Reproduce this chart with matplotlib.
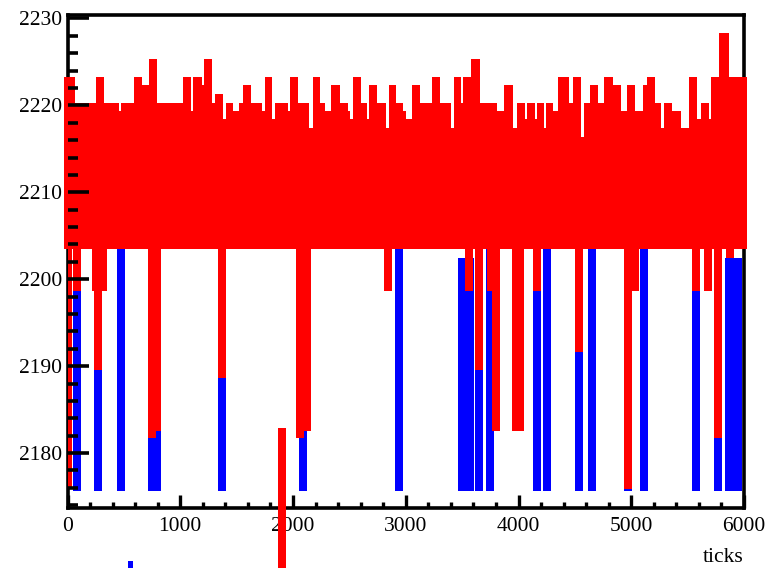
import matplotlib.pyplot as plt
import numpy as np
from matplotlib.ticker import MultipleLocator

plt.rcParams['font.family'] = ['Liberation Serif', 'DejaVu Serif']

# red trace: upper envelope of the fast oscillation (step edges in ticks, top values)
band_edges = [-35, 67, 253, 327, 460, 472, 590, 658, 726, 794, 1028, 1093, 1111, 1191, 1211,
              1279, 1309, 1377, 1404, 1472, 1525, 1560, 1626, 1723, 1753, 1818, 1842, 1954, 1975,
              2040, 2143, 2173, 2241, 2285, 2336, 2418, 2486, 2507, 2531, 2602, 2655, 2673, 2744,
              2821, 2847, 2915, 2972, 3001, 3057, 3122, 3232, 3300, 3401, 3424, 3489, 3507, 3581,
              3655, 3809, 3874, 3951, 3986, 4060, 4075, 4149, 4164, 4229, 4244, 4306, 4347, 4445,
              4483, 4554, 4578, 4631, 4702, 4762, 4838, 4909, 4963, 5031, 5105, 5140, 5208, 5267,
              5288, 5362, 5445, 5510, 5584, 5622, 5687, 5711, 5782, 5865, 6030]
band_top = [2223.3, 2220.3, 2223.3, 2220.3, 2219.4, 2220.3, 2223.3, 2222.3, 2225.3, 2220.3,
            2223.3, 2219.4, 2223.3, 2222.3, 2225.3, 2220.3, 2221.3, 2218.4, 2220.3, 2219.4,
            2220.3, 2222.3, 2220.3, 2219.4, 2223.3, 2218.4, 2220.3, 2219.4,
            2223.3, 2220.3, 2217.4, 2223.3, 2220.3, 2219.4, 2222.3, 2220.3, 2219.4, 2218.4,
            2223.3, 2220.3, 2218.4, 2222.3, 2220.3, 2217.4, 2222.3, 2220.3, 2219.4, 2218.4,
            2222.3, 2220.3, 2223.3, 2220.3, 2217.4, 2223.3, 2220.3, 2223.3, 2225.3, 2220.3,
            2219.4, 2222.3, 2217.4, 2220.3, 2218.4, 2220.3, 2218.4, 2220.3, 2217.4, 2220.3,
            2219.4, 2223.3, 2220.3, 2223.3, 2216.4, 2220.3, 2222.3, 2220.3, 2223.3, 2222.3,
            2219.4, 2222.3, 2219.4, 2222.3, 2223.3, 2220.3, 2217.4, 2220.3, 2219.4, 2217.4,
            2223.3, 2218.4, 2220.3, 2218.4, 2223.3, 2228.3, 2223.3]
band_low = 2203.5

# red excursions below the band
red_x = [0, 81, 255, 315, 266, 746, 792, 1373, 2063, 2123, 2846, 3565, 3651, 3755, 3799,
         3982, 4016, 4164, 4538, 4967, 5037, 5574, 5680, 5772, 5873]
red_low = [2175.9, 2198.6, 2198.6, 2198.6, 2189.6, 2181.7, 2182.6, 2188.6, 2181.7, 2182.6,
           2198.6, 2198.6, 2189.6, 2198.6, 2182.6, 2182.6, 2182.6, 2198.6, 2191.6, 2175.9,
           2198.6, 2198.6, 2198.6, 2181.7, 2202.5]

# blue trace excursions (mostly hidden behind red)
blue_x = [81, 266, 473, 746, 790, 1373, 2086, 2936, 3498, 3572, 3646, 3750, 4164, 4257,
          4538, 4652, 4967, 5112, 5574, 5772, 5864, 5906, 5948]
blue_top = [2204, 2204, 2204, 2204, 2204, 2204, 2204, 2204, 2202.5, 2202.5, 2202.5, 2204,
            2204, 2204, 2204, 2204, 2204, 2204, 2204, 2204, 2202.4, 2202.4, 2202.4]
blue_low = [2175.6] * len(blue_x)

# points that fall outside the frame
stray_red = (1905, 2182.9)
stray_blue = (559, 2167.6)

fig = plt.figure(figsize=(7.69, 5.68), dpi=100)
ax = fig.add_axes([0.0878, 0.1051, 0.8797, 0.8685])

w = 71
ax.bar(blue_x, np.subtract(blue_top, blue_low), bottom=blue_low, width=w,
       color='blue', linewidth=0, zorder=1)
ax.stairs(band_top, band_edges, baseline=band_low, fill=True, color='red',
          linewidth=0, zorder=1.2, clip_on=False)
ax.bar(red_x, np.subtract(band_low + 0.5, red_low), bottom=red_low, width=w,
       color='red', linewidth=0, zorder=1.2)
ax.bar([stray_red[0]], [stray_red[1] - 2150], bottom=2150, width=w, color='red',
       linewidth=0, zorder=3, clip_on=False)
ax.bar([stray_blue[0]], [stray_blue[1] - 2150], bottom=2150, width=50, color='blue',
       linewidth=0, zorder=3, clip_on=False)

ax.set_xlim(0, 6000)
ax.set_ylim(2173.65, 2230.4)
ax.xaxis.set_major_locator(MultipleLocator(1000))
ax.xaxis.set_minor_locator(MultipleLocator(200))
ax.yaxis.set_major_locator(MultipleLocator(10))
ax.yaxis.set_minor_locator(MultipleLocator(2))

ax.set_axisbelow(False)
for s in ax.spines.values():
    s.set_linewidth(2.6)
    s.set_zorder(0.5)

ax.tick_params(axis='y', which='major', direction='in', length=15, width=2.6,
               right=False, labelsize=15.5, pad=4)
ax.tick_params(axis='y', which='minor', direction='in', length=7.5, width=2.6, right=False)
ax.tick_params(axis='x', which='major', direction='in', length=9.5, width=2.4,
               top=False, labelsize=15.5, pad=6)
ax.tick_params(axis='x', which='minor', direction='in', length=4.5, width=2.4, top=False)

ax.set_xlabel('ticks', loc='right', fontsize=15.5, labelpad=9)

fig.savefig('out.png', dpi=100)
